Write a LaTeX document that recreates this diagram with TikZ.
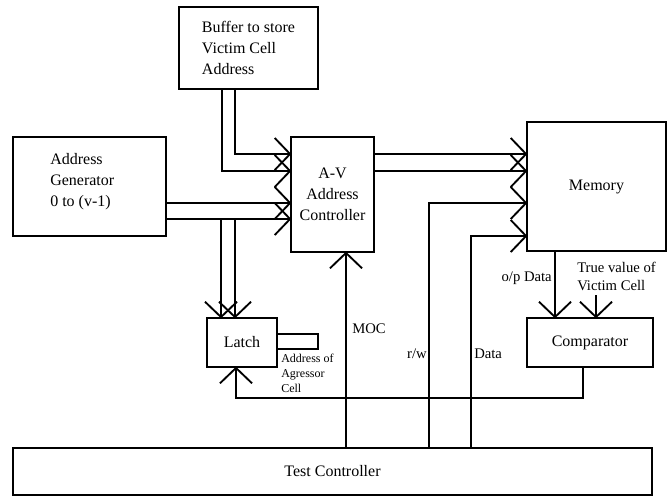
\documentclass[tikz,border=0pt]{standalone}
\usepackage{fontspec}
\setmainfont{Liberation Serif}
\usetikzlibrary{decorations.markings}
\begin{document}
\begin{tikzpicture}[x=0.75pt,y=-0.75pt,
  box/.style={draw,line width=1.4pt,rectangle,inner sep=0pt,font=\fontsize{12}{15.75}\selectfont,align=center},
  conn/.style={line width=1.4pt},
  arr/.style={conn,postaction={decorate,decoration={markings,
      mark=at position 1 with {\draw[line width=1.4pt,line join=miter] (-11.5pt,12pt) -- (0pt,0pt) -- (-11.5pt,-12pt);}}}},
  lbl/.style={inner sep=0pt,font=\fontsize{11}{13.5}\selectfont,align=left},
  small/.style={inner sep=0pt,font=\fontsize{9}{11.25}\selectfont,align=left}]
\useasboundingbox (0,0) rectangle (670,497);
% boxes
\node[box,minimum width=104.25pt,minimum height=61.5pt,align=left] (buf) at (248.5,48) {Buffer to store\\Victim Cell\\Address};
\node[box,minimum width=62.25pt,minimum height=86.25pt] (av) at (332.5,194.5) {A-V\\Address\\Controller};
\node[box,minimum width=114.75pt,minimum height=74.25pt] (gen) at (89.5,186.5) {};
\node[inner sep=0pt,anchor=west,align=left,font=\fontsize{12}{15.75}\selectfont] (gentext) at (50,182) {Address\\Generator\\0 to (v-1)};
\node[box,minimum width=104.25pt,minimum height=96.75pt] (mem) at (596.5,186.5) {Memory};
\node[box,minimum width=52.5pt,minimum height=36.75pt] (latch) at (242,342.5) {Latch};
\node[box,minimum width=94.5pt,minimum height=36.75pt] (comp) at (590,342.5) {Comparator};
\node[box,minimum width=479.25pt,minimum height=35.25pt] (test) at (332.5,471.5) {Test Controller};
% stub on latch
\draw[line width=1.4pt] (latch.east |- 0,334) -- (318,334) -- (318,349) -- (latch.east |- 0,349);
% free-end coordinates
\coordinate (b1) at (221,219);
\coordinate (b2) at (235,219);
\coordinate (tv) at (596,295);
\coordinate (fb) at (583,398);
% buffer -> A-V
\draw[arr] (buf.south -| 235,0) |- (av.west |- 0,154);
\draw[arr] (buf.south -| 222,0) |- (av.west |- 0,171);
% generator -> A-V
\draw[arr] (gen.east |- 0,203) -- (av.west |- 0,203);
\draw[arr] (gen.east |- 0,219) -- (av.west |- 0,219);
% generator bus -> latch
\draw[arr] (b1) -- (latch.north -| b1);
\draw[arr] (b2) -- (latch.north -| b2);
% A-V -> memory
\draw[arr] (av.east |- 0,154) -- (mem.west |- 0,154);
\draw[arr] (av.east |- 0,171) -- (mem.west |- 0,171);
% test controller lines
\draw[arr] (test.north -| 346,0) -- (av.south -| 346,0);
\draw[arr] (test.north -| 429,0) |- (mem.west |- 0,203);
\draw[arr] (test.north -| 471,0) |- (mem.west |- 0,236);
% memory -> comparator
\draw[arr] (mem.south -| 555,0) -- (comp.north -| 555,0);
\draw[arr] (tv) -- (comp.north -| tv);
% comparator -> latch
\draw[arr] (comp.south -| fb) -- (fb) -| (latch.south -| 236,0);
% labels
\node[lbl,anchor=west] (lmoc) at (352,329) {MOC};
\node[lbl,anchor=east] (lrw) at (427,354) {r/w};
\node[lbl,anchor=west] (ldata) at (474,354) {Data};
\node[lbl,anchor=east] (lop) at (552,278) {o/p Data};
\node[lbl,anchor=west] (ltv) at (577,276) {True value of\\Victim Cell};
\node[small,anchor=west] (lagg) at (281,373) {Address of\\Agressor\\Cell};
\end{tikzpicture}
\end{document}
